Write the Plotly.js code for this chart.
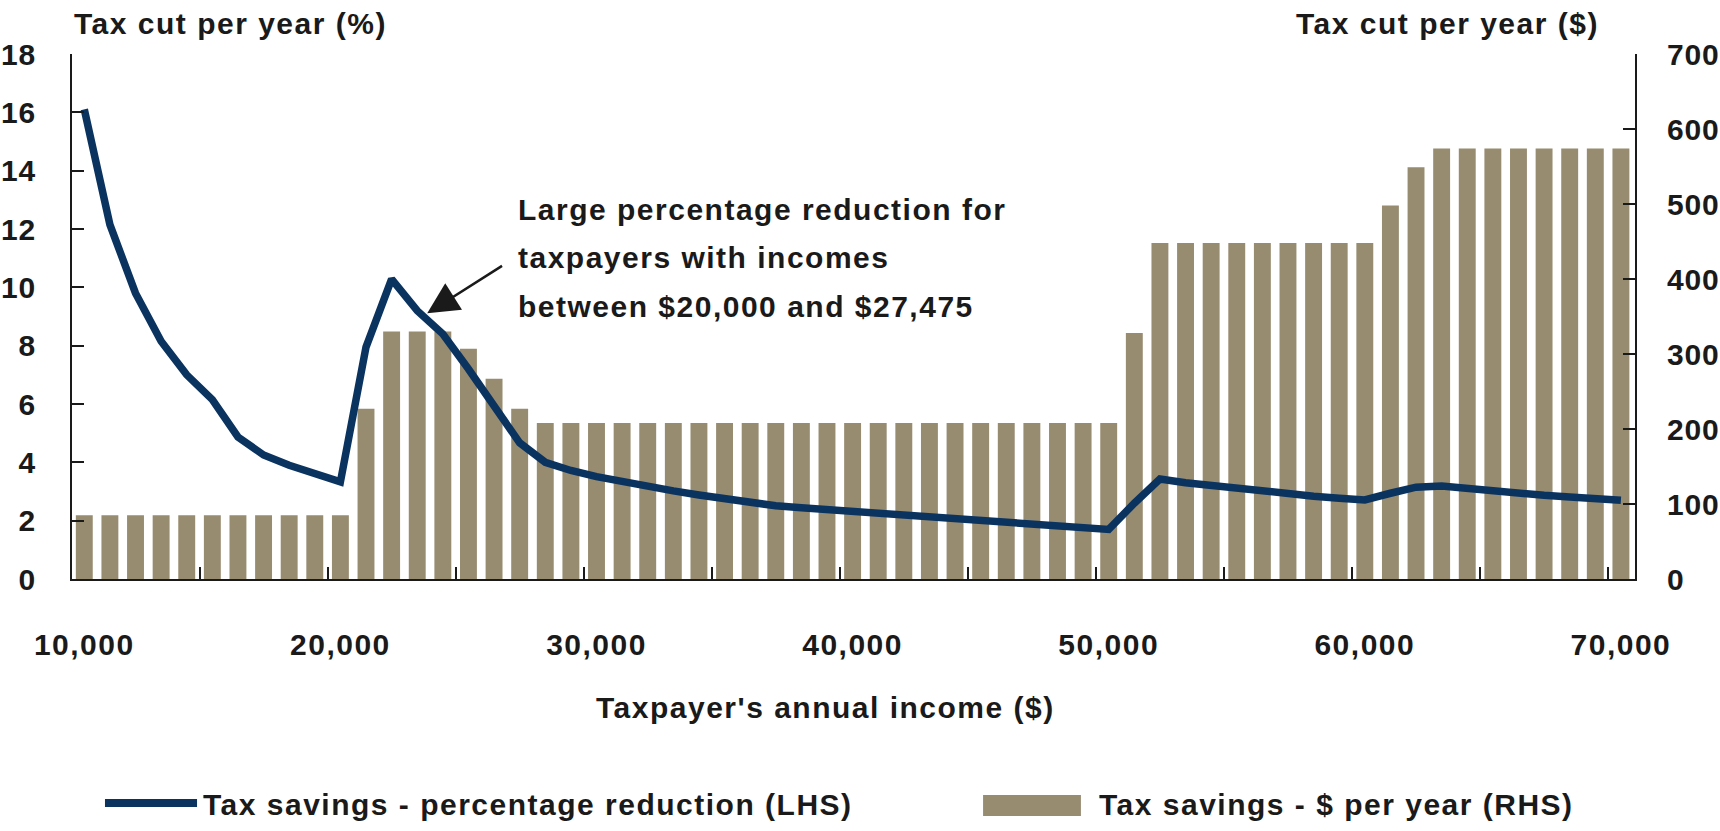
<!DOCTYPE html>
<html>
<head>
<meta charset="utf-8">
<script src="https://cdn.plot.ly/plotly-3.0.1.min.js"></script>
<style>
    html, body { margin: 0; padding: 0; background: #ffffff; }
    #grafico { width: 1720px; height: 831px; }
    /* the original type is set a little loose */
    text { letter-spacing: 1.5px; }
    .ytick text, .y2tick text { letter-spacing: 0.8px; }
</style>
</head>
<body>
<div id="grafico"></div>
<script>
/* ============================================================================
 * Datos
 * ========================================================================== */

// Ingreso anual del contribuyente ($)
const ingresos = [
    10000, 11000, 12000, 13000, 14000, 15000, 16000, 17000, 18000, 19000,
    20000, 21000, 22000, 23000, 24000, 25000, 26000, 27000, 28000, 29000,
    30000, 31000, 32000, 33000, 34000, 35000, 36000, 37000, 38000, 39000,
    40000, 41000, 42000, 43000, 44000, 45000, 46000, 47000, 48000, 49000,
    50000, 51000, 52000, 53000, 54000, 55000, 56000, 57000, 58000, 59000,
    60000, 61000, 62000, 63000, 64000, 65000, 66000, 67000, 68000, 69000,
    70000
];

// Ahorro fiscal - $ por año (RHS)
const ahorroDolares = [
    85, 85, 85, 85, 85, 85, 85, 85, 85, 85,
    85, 227, 330, 330, 330, 307, 267, 227, 208, 208,
    208, 208, 208, 208, 208, 208, 208, 208, 208, 208,
    208, 208, 208, 208, 208, 208, 208, 208, 208, 208,
    208, 328, 448, 448, 448, 448, 448, 448, 448, 448,
    448, 498, 549, 574, 574, 574, 574, 574, 574, 574,
    574
];

// Ahorro fiscal - reducción porcentual (LHS)
const reduccionPct = [
    16.1, 12.15, 9.8, 8.15, 7.0, 6.15, 4.87, 4.25, 3.9, 3.6,
    3.33, 7.95, 10.28, 9.2, 8.4, 7.2, 5.9, 4.67, 4.0, 3.72,
    3.51, 3.33, 3.17, 3.02, 2.88, 2.75, 2.63, 2.51, 2.44, 2.38,
    2.3, 2.23, 2.16, 2.09, 2.02, 1.97, 1.9, 1.84, 1.79, 1.75,
    1.7, 2.6, 3.43, 3.3, 3.2, 3.11, 3.01, 2.92, 2.84, 2.77,
    2.71, 2.94, 3.15, 3.19, 3.1, 3.02, 2.94, 2.87, 2.81, 2.75,
    2.7
];

// Etiquetas de los ejes
const etiquetasX = [10000, 20000, 30000, 40000, 50000, 60000, 70000];
const textoEtiquetasX = ["10,000", "20,000", "30,000", "40,000", "50,000", "60,000", "70,000"];

const nombreLinea = "Tax savings - percentage reduction (LHS)";
const nombreBarras = "Tax savings - $ per year (RHS)";

const notaLineas = [
    "Large percentage reduction for",
    "taxpayers with incomes",
    "between $20,000 and $27,475"
];


/* ============================================================================
 * Estilo
 * ========================================================================== */

const FUENTE = "Liberation Sans, Arial, sans-serif";
const TINTA = "#1a1a1a";
const AZUL = "#0b3360";
const OCRE = "#978b70";

const fuenteBase = { family: FUENTE, size: 30, color: TINTA, weight: 700 };


/* ============================================================================
 * Construcción del Gráfico
 * ========================================================================== */

function crearGrafico() {

    const trazaBarras = {
        type: "bar",
        name: nombreBarras,
        x: ingresos,
        y: ahorroDolares,
        yaxis: "y",
        marker: { color: OCRE, line: { width: 0 } },
        hoverinfo: "skip"
    };

    const trazaLinea = {
        type: "scatter",
        mode: "lines",
        name: nombreLinea,
        x: ingresos,
        y: reduccionPct,
        yaxis: "y2",
        line: { color: AZUL, width: 7.5 },
        hoverinfo: "skip"
    };

    const ejeComun = {
        showgrid: false,
        zeroline: false,
        showline: true,
        linecolor: TINTA,
        linewidth: 2,
        ticks: "inside",
        ticklen: 12,
        tickwidth: 2,
        tickcolor: TINTA,
        tickfont: fuenteBase
    };

    // Líneas de la nota, una anotación por renglón
    const renglones = [12.68, 11.04, 9.36];
    const notas = notaLineas.map((texto, i) => ({
        text: texto,
        xref: "x", yref: "y2",
        x: 26840, y: renglones[i],
        xanchor: "left", yanchor: "middle",
        showarrow: false,
        font: fuenteBase
    }));

    const anotaciones = [
        {
            text: "Tax cut per year (%)",
            xref: "paper", yref: "paper",
            x: 0.0, y: 1.059,
            xanchor: "left", yanchor: "middle",
            showarrow: false,
            font: fuenteBase
        },
        {
            text: "Tax cut per year ($)",
            xref: "paper", yref: "paper",
            x: 0.978, y: 1.059,
            xanchor: "right", yanchor: "middle",
            showarrow: false,
            font: fuenteBase
        },
        {
            text: "Taxpayer's annual income ($)",
            xref: "paper", yref: "paper",
            x: 0.482, y: -0.244,
            xanchor: "center", yanchor: "middle",
            showarrow: false,
            font: fuenteBase
        },
        // Flecha de la nota
        {
            text: "",
            xref: "x", yref: "y2",
            x: 23390, y: 9.11,
            axref: "x", ayref: "y2",
            ax: 26370, ay: 10.77,
            showarrow: true,
            arrowhead: 2,
            arrowsize: 2.5,
            arrowwidth: 2.5,
            arrowcolor: TINTA,
            standoff: 0
        },
        // Leyenda
        {
            text: nombreLinea,
            xref: "paper", yref: "paper",
            x: 0.0825, y: -0.4286,
            xanchor: "left", yanchor: "middle",
            showarrow: false,
            font: fuenteBase
        },
        {
            text: nombreBarras,
            xref: "paper", yref: "paper",
            x: 0.6558, y: -0.4286,
            xanchor: "left", yanchor: "middle",
            showarrow: false,
            font: fuenteBase
        }
    ].concat(notas);

    const muestrasLeyenda = [
        {
            type: "line",
            xref: "paper", yref: "paper",
            x0: 0.0211, x1: 0.080, y0: -0.4267, y1: -0.4267,
            line: { color: AZUL, width: 8 }
        },
        {
            type: "rect",
            xref: "paper", yref: "paper",
            x0: 0.5829, x1: 0.6455, y0: -0.4114, y1: -0.4514,
            fillcolor: OCRE,
            line: { width: 0 }
        }
    ];

    const layout = {
        width: 1720,
        height: 831,
        margin: { l: 72, r: 85, t: 54, b: 252 },
        paper_bgcolor: "#ffffff",
        plot_bgcolor: "#ffffff",
        font: fuenteBase,
        showlegend: false,
        bargap: 0.34,
        xaxis: Object.assign({}, ejeComun, {
            range: [9520, 70550],
            tickmode: "array",
            tickvals: etiquetasX,
            ticktext: textoEtiquetasX,
            ticks: "",
            ticklabelstandoff: 38,
            minor: {
                tick0: 14500,
                dtick: 5000,
                ticks: "inside",
                ticklen: 12,
                tickwidth: 2,
                tickcolor: TINTA,
                showgrid: false
            }
        }),
        // eje de dólares (derecha) debajo, para que la línea quede encima
        yaxis: Object.assign({}, ejeComun, {
            side: "right",
            range: [0, 700],
            dtick: 100,
            ticklabelstandoff: 24
        }),
        yaxis2: Object.assign({}, ejeComun, {
            side: "left",
            overlaying: "y",
            range: [0, 18],
            dtick: 2,
            ticklabelstandoff: 28
        }),
        annotations: anotaciones,
        shapes: muestrasLeyenda
    };

    Plotly.newPlot("grafico", [trazaBarras, trazaLinea], layout, {
        displayModeBar: false,
        staticPlot: true
    });
}


/* ============================================================================
 * Inicialización
 * ========================================================================== */

document.addEventListener("DOMContentLoaded", () => {

    crearGrafico();

});
</script>
</body>
</html>
